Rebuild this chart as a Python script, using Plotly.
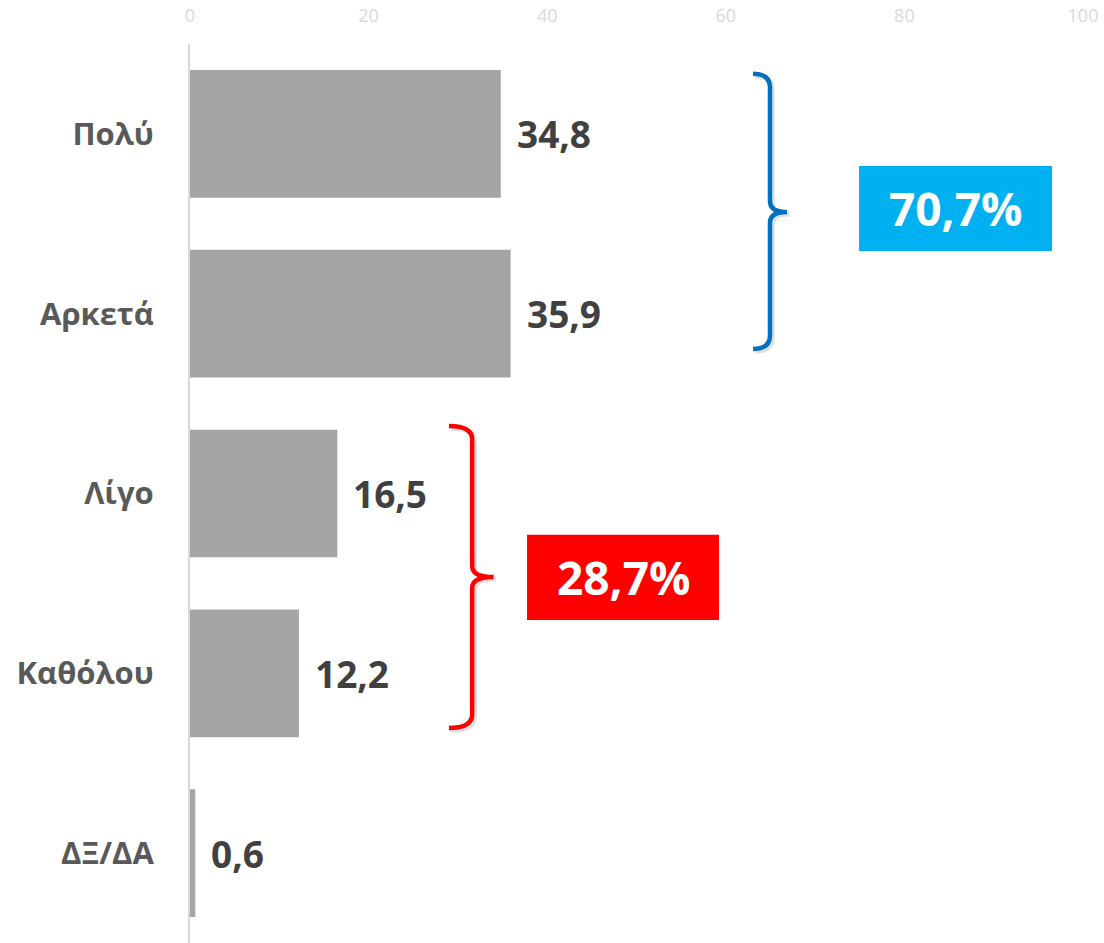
import plotly.graph_objects as go

categories = ["Πολύ", "Αρκετά", "Λίγο", "Καθόλου", "ΔΞ/ΔΑ"]
values = [34.8, 35.9, 16.5, 12.2, 0.6]
x_ticks = [0, 20, 40, 60, 80, 100]
positive_idx = [0, 1]
negative_idx = [2, 3]

FONT = "Open Sans"
ypos = list(range(len(categories)))

def fmt(v):
    return f"{v:.1f}".replace(".", ",")

fig = go.Figure()
fig.add_trace(go.Bar(
    x=values, y=ypos, orientation="h",
    marker=dict(color="#A5A5A5", line=dict(width=0)),
    width=0.71, hoverinfo="skip",
))

# value labels
for v, y in zip(values, ypos):
    fig.add_annotation(x=v, y=y, xref="x", yref="y", text=fmt(v),
                       showarrow=False, xanchor="left", yanchor="middle", xshift=14,
                       font=dict(family=FONT, size=37, color="#404040", weight="bold"))

def brace(xl, xv, xt, ytop, ybot, ymid, r=0.075, rm=0.06):
    return (f"M {xl},{ytop} Q {xv},{ytop} {xv},{ytop + r} "
            f"L {xv},{ymid - rm} Q {xv},{ymid} {xt},{ymid} "
            f"Q {xv},{ymid} {xv},{ymid + rm} "
            f"L {xv},{ybot - r} Q {xv},{ybot} {xl},{ybot}")

def add_brace(path_args, color):
    xl, xv, xt, ytop, ybot, ymid = path_args
    dx, dy = 0.25, 0.012
    fig.add_shape(type="path", xref="x", yref="y",
                  path=brace(xl + dx, xv + dx, xt + dx, ytop + dy, ybot + dy, ymid + dy),
                  line=dict(color="rgba(0,0,0,0.12)", width=5))
    fig.add_shape(type="path", xref="x", yref="y",
                  path=brace(*path_args), line=dict(color=color, width=4.5))

add_brace((63.05, 64.95, 66.85, -0.334, 1.196, 0.434), "#0070C0")
add_brace((29.0, 31.6, 34.0, 1.624, 3.304, 2.464), "#FF0000")

pos_total = sum(values[i] for i in positive_idx)
neg_total = sum(values[i] for i in negative_idx)

# boxes
fig.add_shape(type="rect", xref="x", yref="y", x0=74.92, x1=96.53, y0=0.178, y1=0.651,
              fillcolor="#00B0F0", line=dict(width=0), layer="above")
fig.add_annotation(x=85.7, y=0.414, xref="x", yref="y", text=fmt(pos_total) + "%",
                   showarrow=False, xanchor="center", yanchor="middle",
                   font=dict(family=FONT, size=46, color="white", weight="bold"))
fig.add_shape(type="rect", xref="x", yref="y", x0=37.74, x1=59.24, y0=2.230, y1=2.703,
              fillcolor="#FF0000", line=dict(width=0), layer="above")
fig.add_annotation(x=48.5, y=2.466, xref="x", yref="y", text=fmt(neg_total) + "%",
                   showarrow=False, xanchor="center", yanchor="middle",
                   font=dict(family=FONT, size=46, color="white", weight="bold"))

fig.update_layout(
    width=1104, height=943,
    margin=dict(l=190, r=21, t=44, b=0),
    paper_bgcolor="white", plot_bgcolor="white",
    showlegend=False,
    xaxis=dict(side="top", range=[0, 100], tickvals=x_ticks,
               ticktext=[str(t) for t in x_ticks],
               showgrid=False, zeroline=False, showline=False,
               ticks="outside", ticklen=14, tickcolor="rgba(0,0,0,0)",
               ticklabeloverflow="allow",
               tickfont=dict(family=FONT, size=18, color="#D9D9D9")),
    yaxis=dict(range=[4.5, -0.5], tickvals=ypos, ticktext=categories,
               showgrid=False, zeroline=False,
               showline=True, linecolor="#D9D9D9", linewidth=2,
               ticks="", ticklabelstandoff=28,
               tickfont=dict(family=FONT, size=31, color="#595959", weight="bold")),
)

fig.write_html(
    "out.html",
    config={"displayModeBar": False},
    post_script="document.body.style.margin='0';document.body.style.overflow='hidden';",
)
